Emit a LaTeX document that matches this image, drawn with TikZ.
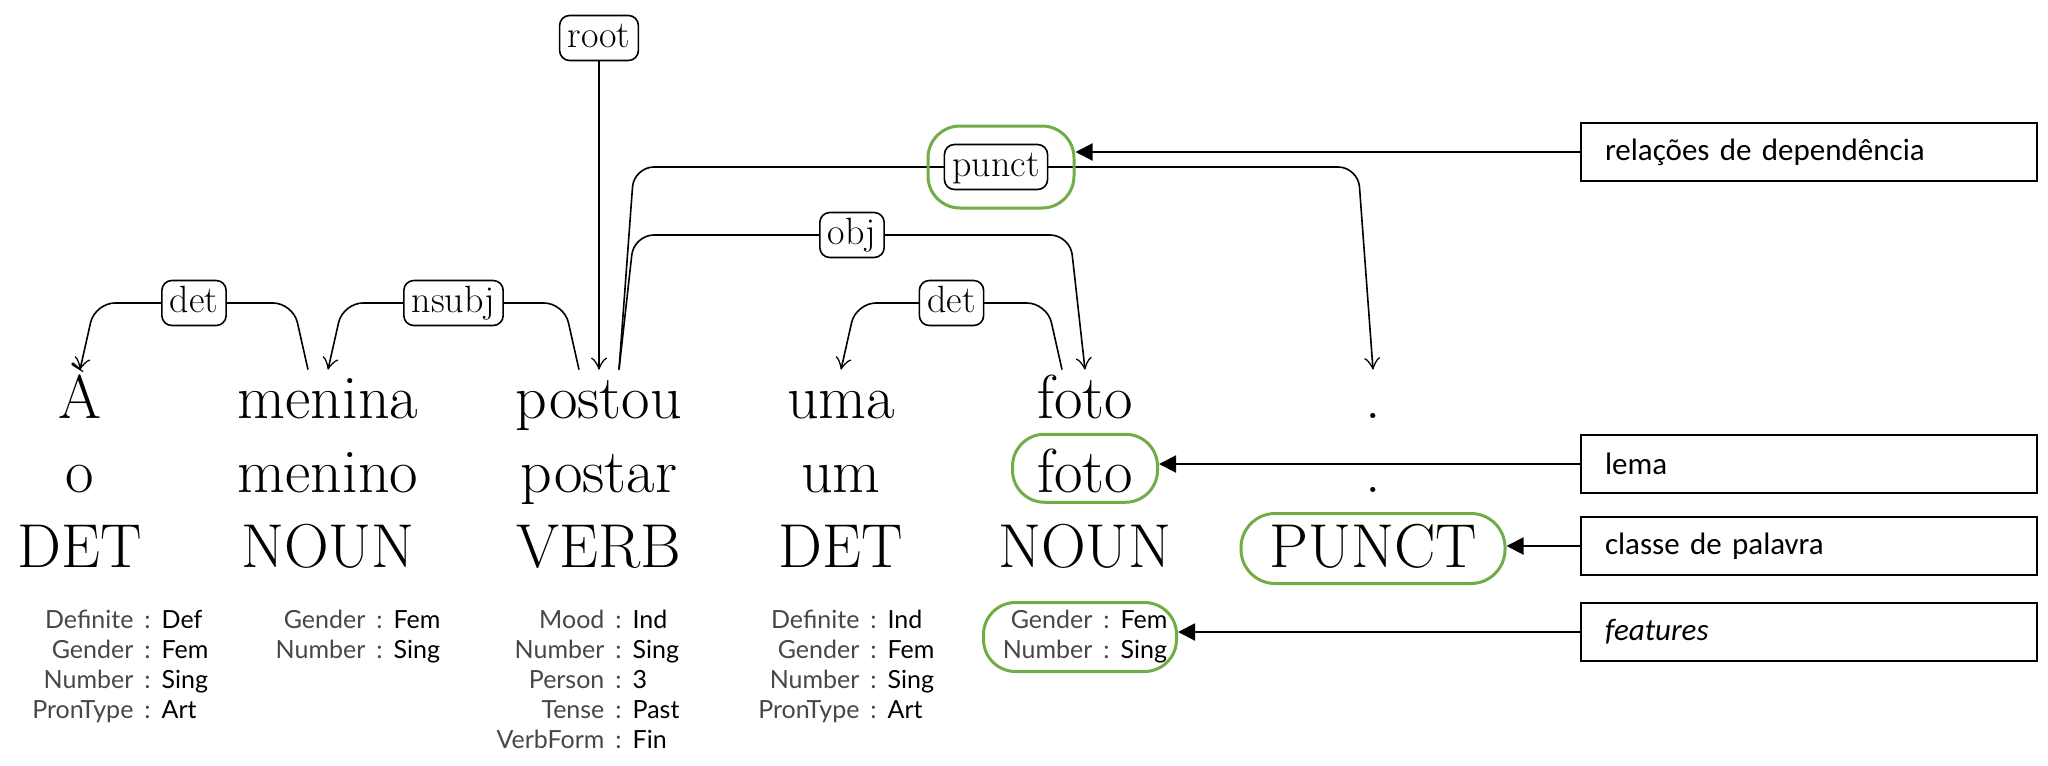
\documentclass[tikz,border=0pt]{standalone}
\usepackage{fontspec}
\newfontfamily\featfont{Lato}
\newfontfamily\notefont{Carlito}
\usetikzlibrary{calc,arrows.meta}
\definecolor{ringgreen}{HTML}{70AD47}
\definecolor{keygray}{gray}{0.28}
\newcommand{\feat}[2]{\llap{\textcolor{keygray}{#1}\hspace{5.5pt}}\textcolor{keygray}{:}\hspace{5.5pt}#2}

\tikzset{
  word/.style={font=\fontsize{31}{31}\selectfont, anchor=base, inner sep=0pt, text height=24pt},
  deplabel/.style={draw, fill=white, rounded corners=5pt, line width=0.8pt, font=\fontsize{19}{19}\selectfont,
    inner xsep=4pt, inner ysep=2.5pt, text height=13.5pt, text depth=4pt},
  dep/.style={line width=0.8pt, rounded corners=10pt, -{Classical TikZ Rightarrow[length=6pt,width=8pt]}},
  feats/.style={font=\featfont\fontsize{12.5}{15}\selectfont, anchor=base west, inner sep=0pt},
  ring/.style={draw=ringgreen, line width=1.5pt, rounded corners=16pt},
  notebox/.style={draw, line width=1pt, font=\notefont\fontsize{15.5}{18}\selectfont, text width=204pt,
    inner xsep=12pt, minimum height=29pt, align=left},
  callout/.style={line width=1pt, -{Triangle[length=8.5pt,width=8.5pt]}}
}

\begin{document}
\begin{tikzpicture}[x=0.5pt, y=-0.5pt]
\useasboundingbox (0,0) rectangle (2048,765);

% words
\node[word] (A) at (80,418) {À};
\node[word] (menina) at (328,418) {menina};
\node[word] (postou) at (599,418) {postou};
\node[word] (uma) at (841,418) {uma};
\node[word] (foto) at (1085,418) {foto};
\node[word] (dot) at (1373,418) {.};

% lemmas
\node[word] (lA) at (80,492) {o};
\node[word] (lmenina) at (328,492) {menino};
\node[word] (lpostou) at (599,492) {postar};
\node[word] (luma) at (841,492) {um};
\node[word] (lfoto) at (1085,492) {foto};
\node[word] (ldot) at (1373,492) {.};

% word classes
\node[word] (pA) at (80,567) {DET};
\node[word] (pmenina) at (328,567) {NOUN};
\node[word] (ppostou) at (599,567) {VERB};
\node[word] (puma) at (841,567) {DET};
\node[word] (pfoto) at (1085,567) {NOUN};
\node[word] (pdot) at (1373,567) {PUNCT};

% features
\node[feats] (fA) at (144,628) {\begin{tabular}[t]{@{}l@{}}
  \feat{Definite}{Def}\\ \feat{Gender}{Fem}\\ \feat{Number}{Sing}\\ \feat{PronType}{Art}\end{tabular}};
\node[feats] (fmenina) at (376,628) {\begin{tabular}[t]{@{}l@{}}
  \feat{Gender}{Fem}\\ \feat{Number}{Sing}\end{tabular}};
\node[feats] (fpostou) at (615,628) {\begin{tabular}[t]{@{}l@{}}
  \feat{Mood}{Ind}\\ \feat{Number}{Sing}\\ \feat{Person}{3}\\ \feat{Tense}{Past}\\ \feat{VerbForm}{Fin}\end{tabular}};
\node[feats] (fuma) at (870,628) {\begin{tabular}[t]{@{}l@{}}
  \feat{Definite}{Ind}\\ \feat{Gender}{Fem}\\ \feat{Number}{Sing}\\ \feat{PronType}{Art}\end{tabular}};
\node[feats] (ffoto) at (1103,628) {\begin{tabular}[t]{@{}l@{}}
  \feat{Gender}{Fem}\\ \feat{Number}{Sing}\end{tabular}};

% arc ends and levels
\coordinate (menina-out) at ([xshift=-10pt]menina.north);
\coordinate (postou-l) at ([xshift=-10pt]postou.north);
\coordinate (postou-r) at ([xshift=10pt]postou.north);
\coordinate (foto-l) at ([xshift=-11.5pt]foto.north);
\coordinate (lvla) at (0,303);
\coordinate (lvlb) at (0,235);
\coordinate (lvlc) at (0,167);

% dependency arcs
\node[deplabel] (root) at (599,38) {root};
\draw[dep] (root) -- (postou.north);
\draw[dep] (menina-out) -- ($(menina-out |- lvla)!7.5pt!(A.north |- lvla)$)
  -- node[deplabel] {det} ($(A.north |- lvla)!7.5pt!(menina-out |- lvla)$) -- (A.north);
\draw[dep] (postou-l) -- ($(postou-l |- lvla)!7.5pt!(menina.north |- lvla)$)
  -- node[deplabel] {nsubj} ($(menina.north |- lvla)!7.5pt!(postou-l |- lvla)$) -- (menina.north);
\draw[dep] (foto-l) -- ($(foto-l |- lvla)!7.5pt!(uma.north |- lvla)$)
  -- node[deplabel] {det} ($(uma.north |- lvla)!7.5pt!(foto-l |- lvla)$) -- (uma.north);
\draw[dep] (postou-r) -- ($(postou-r |- lvlb)!7.5pt!(foto.north |- lvlb)$)
  -- node[deplabel] {obj} ($(foto.north |- lvlb)!7.5pt!(postou-r |- lvlb)$) -- (foto.north);
\draw[dep] (postou-r) -- ($(postou-r |- lvlc)!7.5pt!(dot.north |- lvlc)$)
  -- node[deplabel] (punct) {punct} ($(dot.north |- lvlc)!7.5pt!(postou-r |- lvlc)$) -- (dot.north);

% green marks
\node[ring, minimum width=73pt, minimum height=41pt] (punctring) at ([xshift=2.5pt]punct) {};
\node[ring, minimum width=72.5pt, minimum height=34pt] (lemmaring) at (lfoto) {};
\node[ring, minimum width=132pt, minimum height=35pt, rounded corners=17pt] (posring) at ([yshift=-2.5pt]pdot) {};
\node[ring, minimum width=96.5pt, minimum height=34.5pt] (featring) at ([xshift=-2.5pt]ffoto -| foto) {};

% notes
\node[notebox] (deprel) at (1809,152) {relações de dependência};
\node[notebox] (lemanote) at (1809,464) {lema};
\node[notebox] (posnote) at (1809,546) {classe de palavra};
\node[notebox] (featnote) at (1809,632) {\textit{features}};

\draw[callout] (deprel.west) -- (deprel.west -| punctring.east);
\draw[callout] (lemanote.west) -- (lemanote.west -| lemmaring.east);
\draw[callout] (posnote.west) -- (posnote.west -| posring.east);
\draw[callout] (featnote.west) -- (featnote.west -| featring.east);

\end{tikzpicture}
\end{document}
